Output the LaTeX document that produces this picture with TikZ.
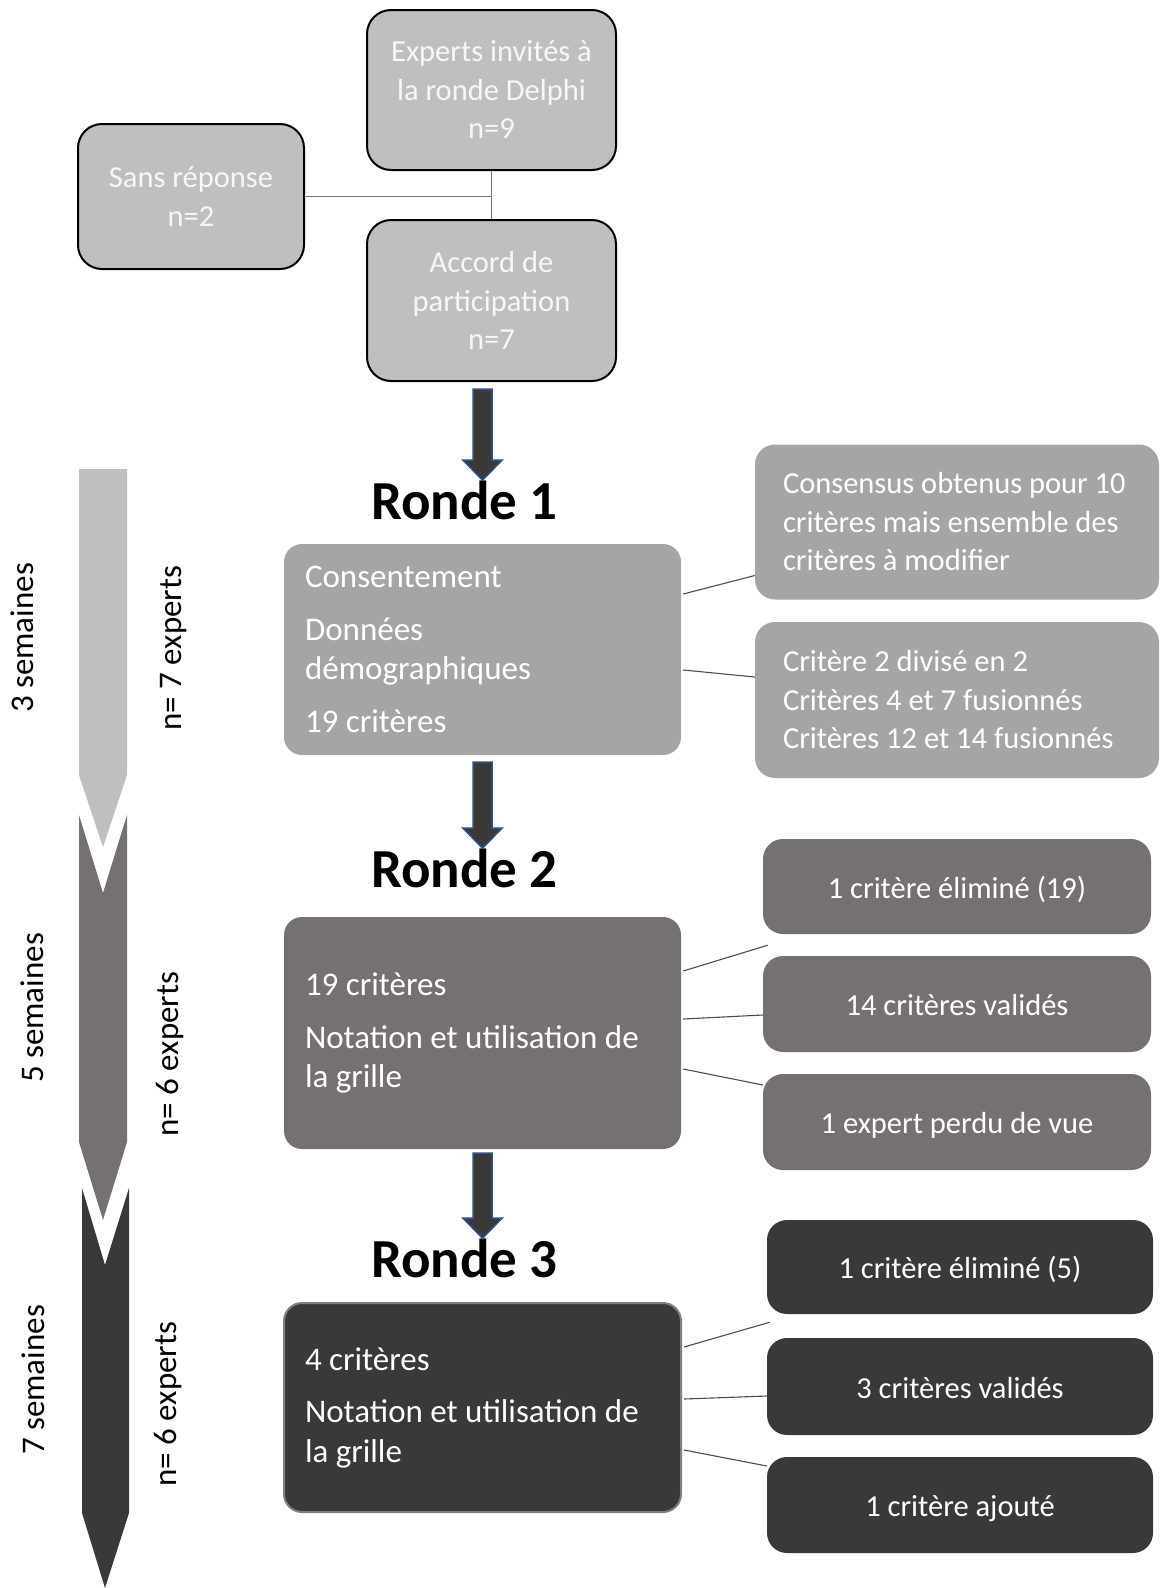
\documentclass[tikz,border=0pt]{standalone}
\usepackage{fontspec}
\setmainfont{Carlito}
\usetikzlibrary{calc}

\definecolor{palegrey}{HTML}{BFBFBF}
\definecolor{midgrey}{HTML}{A5A5A5}
\definecolor{warmgrey}{HTML}{767171}
\definecolor{darkgrey}{HTML}{3B3838}
\definecolor{outlineblue}{HTML}{2F528F}

\tikzset{
  txt/.style={font=\fontsize{30.5}{38.5}\selectfont},
  grandtxt/.style={font=\fontsize{33}{39.5}\selectfont},
  topbox/.style={txt, draw=black, line width=2pt, fill=palegrey, text=white!97!black,
    rounded corners=24pt, align=center, inner sep=0pt},
  rondebox/.style={grandtxt, rounded corners=18pt, text=white, align=flush left,
    text width=355pt, inner xsep=21pt, inner ysep=0pt, minimum width=397pt},
  sidebox/.style={txt, rounded corners=20pt, text=white, align=center, inner sep=0pt},
  ligne/.style={sidebox, text height=25pt, text depth=2pt},
  titre/.style={font=\fontsize{55}{60}\selectfont\bfseries, anchor=base, inner sep=0pt},
  duree/.style={grandtxt, rotate=90, anchor=base, inner sep=0pt},
  lien/.style={draw=black!70, line width=1.1pt},
}

% grosse fleche entre deux points
\newcommand{\grossefleche}[2]{%
  \path[fill=darkgrey, draw=outlineblue, line width=1.5pt] let \p1=(#1), \p2=(#2) in
    ({\x1-9.5pt},{\y1}) -- ({\x1+9.5pt},{\y1}) -- ({\x1+9.5pt},{\y2+20pt})
    -- ({\x1+19.5pt},{\y2+20pt}) -- ({\x1},{\y2}) -- ({\x1-19.5pt},{\y2+20pt})
    -- ({\x1-9.5pt},{\y2+20pt}) -- cycle;}

\begin{document}
\begin{tikzpicture}[x=1pt, y=-1pt]
  \useasboundingbox (0,0) rectangle (1160,1588);

  % frise de gauche
  \fill[palegrey] (79,469) -- (127,469) -- (127,775) -- (103,847) -- (79,775) -- cycle;
  \fill[warmgrey] (79,815) -- (103,893) -- (127,815) -- (127,1142) -- (103,1220) -- (79,1142) -- cycle;
  \fill[darkgrey] (82,1188) -- (105,1265) -- (129,1188) -- (129,1513) -- (105,1588) -- (82,1513) -- cycle;

  \node[duree] (sem1) at (34,638) {3 semaines};
  \node[duree] (exp1) at (181,648) {n= 7 experts};
  \node[duree] (sem2) at (43,1008) {5 semaines};
  \node[duree] (exp2) at (178,1054) {n= 6 experts};
  \node[duree] (sem3) at (44,1380) {7 semaines};
  \node[duree] (exp3) at (176,1404) {n= 6 experts};

  % recrutement
  \node[topbox, minimum width=249pt, minimum height=160pt] (invites) at (491.5,90) {Experts invités à\\la ronde Delphi\\n=9};
  \node[topbox, minimum width=226pt, minimum height=145pt] (sansrep) at (191,196.5) {Sans réponse\\n=2};
  \node[topbox, minimum width=249pt, minimum height=161pt] (accord) at (491.5,300.5) {Accord de\\participation\\n=7};
  \draw[draw=black!55, line width=1pt] (invites.south) -- (accord.north);
  \draw[draw=black!55, line width=1pt] (sansrep.east) -- (sansrep.east -| invites.south);

  % rondes
  \node[titre] (t1) at (464.5,519) {Ronde 1};
  \node[titre] (t2) at (464.5,887) {Ronde 2};
  \node[titre] (t3) at (464.5,1277) {Ronde 3};

  \node[rondebox, fill=midgrey, minimum height=211pt] (ronde1) at (482.5,649.5)
    {Consentement\\[13pt]Données\\démographiques\\[13pt]19 critères};
  \node[rondebox, fill=warmgrey, minimum height=232pt] (ronde2) at (482.5,1033)
    {19 critères\\[13pt]Notation et utilisation de\\la grille};
  \node[rondebox, fill=darkgrey, draw=black!50, line width=2pt, minimum height=209pt] (ronde3) at (482.5,1407.5)
    {4 critères\\[13pt]Notation et utilisation de\\la grille};

  \grossefleche{$(accord.south -| ronde1.north)+(0,7)$}{t1.north -| ronde1.north}
  \grossefleche{$(ronde1.south)+(0,7)$}{t2.north -| ronde1.north}
  \grossefleche{$(ronde2.south)+(0,4)$}{t3.north -| ronde1.north}

  % resultats
  \node[sidebox, fill=midgrey, align=flush left, text width=374pt, inner xsep=15pt, minimum height=155pt] (r1a) at (957,522)
    {\hspace*{13pt}Consensus obtenus pour 10\\\hspace*{13pt}critères mais ensemble des\\\hspace*{13pt}critères à modifier};
  \node[sidebox, fill=midgrey, align=flush left, text width=374pt, inner xsep=15pt, minimum height=156pt] (r1b) at (957,700)
    {\hspace*{13pt}Critère 2 divisé en 2\\\hspace*{13pt}Critères 4 et 7 fusionnés\\\hspace*{13pt}Critères 12 et 14 fusionnés};

  \node[ligne, fill=warmgrey, minimum width=388pt, minimum height=95pt] (r2a) at (957,886.5) {1 critère éliminé (19)};
  \node[ligne, fill=warmgrey, minimum width=388pt, minimum height=96pt] (r2b) at (957,1004) {14 critères validés};
  \node[ligne, fill=warmgrey, minimum width=388pt, minimum height=96pt] (r2c) at (957,1122) {1 expert perdu de vue};

  \node[ligne, fill=darkgrey, minimum width=386pt, minimum height=94pt] (r3a) at (960,1267) {1 critère éliminé (5)};
  \node[ligne, fill=darkgrey, minimum width=386pt, minimum height=97pt] (r3b) at (960,1386.5) {3 critères validés};
  \node[ligne, fill=darkgrey, minimum width=386pt, minimum height=96pt] (r3c) at (960,1505) {1 critère ajouté};

  \draw[lien] ($(ronde1.east)+(2,-55.5)$) -- ($(r1a.west)+(0,53.5)$);
  \draw[lien] ($(ronde1.east)+(2,20.5)$) -- ($(r1b.west)+(0,-23)$);

  \draw[lien] ($(ronde2.east)+(2,-62)$) -- ($(r2a.south west)+(5,11)$);
  \draw[lien] ($(ronde2.east)+(2,-14)$) -- ($(r2b.west)+(0,11)$);
  \draw[lien] ($(ronde2.east)+(2,36)$) -- ($(r2c.west)+(0,-37)$);

  \draw[lien] ($(ronde3.east)+(2,-60.5)$) -- ($(r3a.south west)+(3,8)$);
  \draw[lien] ($(ronde3.east)+(2,-8.5)$) -- ($(r3b.west)+(0,9.5)$);
  \draw[lien] ($(ronde3.east)+(2,42.5)$) -- ($(r3c.west)+(0,-39)$);
\end{tikzpicture}
\end{document}
